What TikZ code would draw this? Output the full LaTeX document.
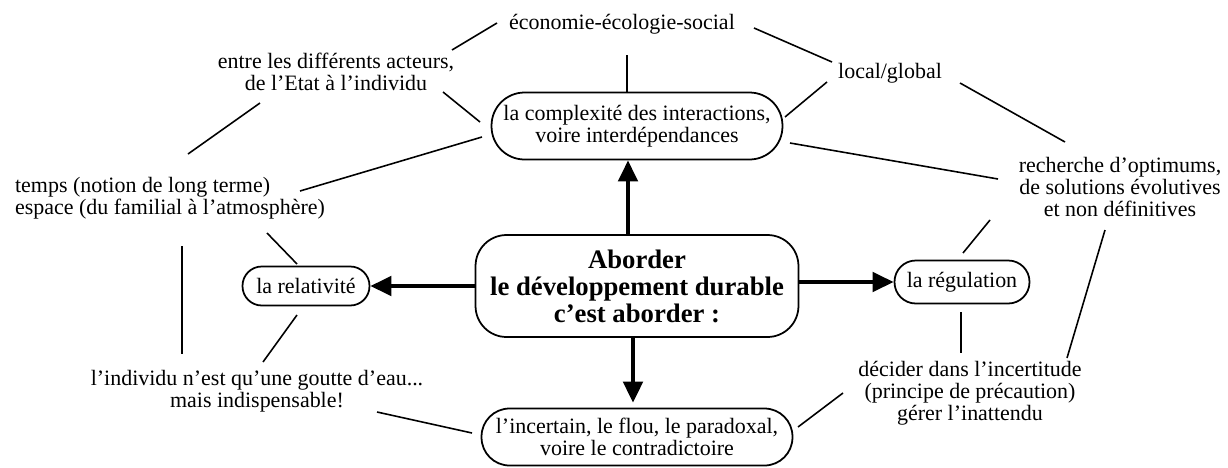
\documentclass[tikz,border=0pt]{standalone}
\usepackage{fontspec}
\setmainfont{Liberation Serif}
\usetikzlibrary{arrows.meta}

\tikzstyle{txt}  = [inner sep=2pt, align=center, font=\fontsize{12.5}{12.4}\selectfont]
\tikzstyle{pill} = [txt, draw, line width=1pt]
\tikzstyle{big}  = [pill, font=\fontsize{15.2}{15.4}\selectfont\bfseries]
\tikzstyle{link} = [line width=0.9pt]
\tikzstyle{arr}  = [line width=2.3pt, -{Triangle[length=12pt,width=11pt]}]

\begin{document}
\begin{tikzpicture}[x=0.02cm, y=-0.02cm]
  \useasboundingbox (0,0) rectangle (1228,467);

  % boxes
  \node[big, minimum width=6.46cm, minimum height=2.04cm, rounded corners=0.62cm] (center) at (637,286)
    {Aborder\\le développement durable\\c’est aborder :};
  \node[pill, minimum width=5.82cm, minimum height=1.34cm, rounded corners=0.66cm] (cx) at (637,126)
    {la complexité des interactions,\\voire interdépendances};
  \node[pill, minimum width=2.54cm, minimum height=0.78cm, rounded corners=0.385cm] (relat) at (306,286)
    {la relativité};
  \node[pill, minimum width=2.7cm, minimum height=0.86cm, rounded corners=0.425cm] (regul) at (962,282)
    {la régulation};
  \node[pill, minimum width=6.22cm, minimum height=1.14cm, rounded corners=0.56cm] (incert) at (637,437)
    {l’incertain, le flou, le paradoxal,\\voire le contradictoire};

  % free texts
  \node[txt] (econ)  at (622,24)  {économie-écologie-social};
  \node[txt] (entre) at (336,72)  {entre les différents acteurs,\\de l’Etat à l’individu};
  \node[txt] (local) at (890,73)  {local/global};
  \node[txt, align=left] (temps) at (170,198)
    {temps (notion de long terme)\\espace (du familial à l’atmosphère)};
  \node[txt] (rech)  at (1120,187) {recherche d’optimums,\\de solutions évolutives\\et non définitives};
  \node[txt] (indiv) at (257,391) {l’individu n’est qu’une goutte d’eau...\\mais indispensable!};
  \node[txt] (decid) at (970,393) {décider dans l’incertitude\\(principe de précaution)\\gérer l’inattendu};

  % arrows
  \draw[arr] ([xshift=-0.18cm]center.north) -- ([xshift=-0.18cm]cx.south);
  \draw[arr, shorten >=2.8pt] ([xshift=-0.08cm]center.south) -- ([xshift=-0.08cm]incert.north);
  \draw[arr] (center.west) -- (relat.east);
  \draw[arr] (center.east |- regul.west) -- (regul.west);

  % links
  \draw[link] ([shift={(-125,-1)}]econ.center) -- ([shift={(116,-22)}]entre.center);
  \draw[link] ([shift={(5,31)}]econ.center) -- ([shift={(-10,-33)}]cx.center);
  \draw[link] ([shift={(132,4)}]econ.center) -- ([shift={(-58,-11)}]local.center);
  \draw[link] ([shift={(-63,9)}]local.center) -- ([shift={(148,-9)}]cx.center);
  \draw[link] ([shift={(70,10)}]local.center) -- ([shift={(-55,-45)}]rech.center);
  \draw[link] ([shift={(153,17)}]cx.center) -- ([shift={(-122,-8)}]rech.center);
  \draw[link] ([shift={(107,20)}]entre.center) -- ([shift={(-157,-4)}]cx.center);
  \draw[link] ([shift={(-76,31)}]entre.center) -- ([shift={(18,-44)}]temps.center);
  \draw[link] ([shift={(-155,11)}]cx.center) -- ([shift={(130,-7)}]temps.center);
  \draw[link] ([shift={(97,35)}]temps.center) -- ([shift={(-9,-22)}]relat.center);
  \draw[link] ([shift={(12,48)}]temps.center) -- ([shift={(-75,-37)}]indiv.center);
  \draw[link] ([shift={(-9,29)}]relat.center) -- ([shift={(6,-29)}]indiv.center);
  \draw[link] ([shift={(120,21)}]indiv.center) -- ([shift={(-165,-4)}]incert.center);
  \draw[link] ([shift={(1,-29)}]regul.center) -- ([shift={(-130,33)}]rech.center);
  \draw[link] ([shift={(-1,30)}]regul.center) -- ([shift={(-9,-40)}]decid.center);
  \draw[link] ([shift={(-15,43)}]rech.center) -- ([shift={(97,-35)}]decid.center);
  \draw[link] ([shift={(-127,0)}]decid.center) -- ([shift={(161,-10)}]incert.center);
\end{tikzpicture}
\end{document}
